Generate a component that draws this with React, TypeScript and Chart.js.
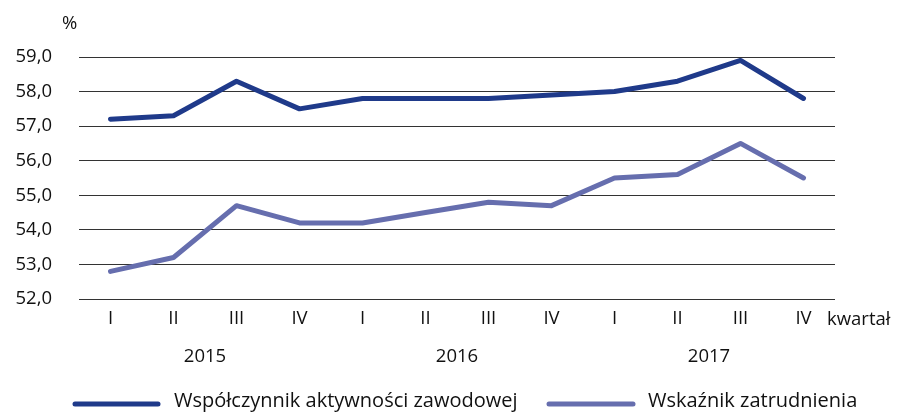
import React, { useEffect, useRef } from "react";
import { Chart, registerables } from "chart.js";

Chart.register(...registerables);

const quarters = ["I", "II", "III", "IV", "I", "II", "III", "IV", "I", "II", "III", "IV"];
const years = ["2015", "2016", "2017"];
const seriesNames = ["Współczynnik aktywności zawodowej", "Wskaźnik zatrudnienia"];
const activityRate = [57.2, 57.3, 58.3, 57.5, 57.8, 57.8, 57.8, 57.9, 58.0, 58.3, 58.9, 57.8];
const employmentRate = [52.8, 53.2, 54.7, 54.2, 54.2, 54.5, 54.8, 54.7, 55.5, 55.6, 56.5, 55.5];
const colors = ["#1f3a8a", "#666eae"];

const FONT = "'Open Sans', sans-serif";

const extras = {
  id: "extras",
  afterDraw(chart: any) {
    const ctx = chart.ctx;
    const x = chart.scales.x;
    ctx.save();
    ctx.fillStyle = "#111111";
    ctx.font = `500 18.5px ${FONT}`;
    ctx.textBaseline = "middle";
    ctx.textAlign = "left";
    ctx.fillText("%", 62, 24);
    ctx.fillText("kwartał", 827, 320);
    ctx.textAlign = "center";
    years.forEach((y, i) => {
      const a = x.getPixelForValue(i * 4 + 1);
      const b = x.getPixelForValue(i * 4 + 2);
      ctx.fillText(y, (a + b) / 2, 357);
    });
    // legend
    ctx.font = `500 20px ${FONT}`;
    ctx.textAlign = "left";
    const items = [
      { x0: 75, x1: 158, tx: 174 },
      { x0: 549, x1: 633, tx: 648 },
    ];
    items.forEach((it, i) => {
      ctx.strokeStyle = colors[i];
      ctx.lineWidth = 5;
      ctx.lineCap = "round";
      ctx.beginPath();
      ctx.moveTo(it.x0, 404);
      ctx.lineTo(it.x1, 404);
      ctx.stroke();
      ctx.fillText(seriesNames[i], it.tx, 401);
    });
    ctx.restore();
  },
};

export default function App() {
  const ref = useRef<HTMLCanvasElement>(null);
  useEffect(() => {
    const chart = new Chart(ref.current!, {
      type: "line",
      data: {
        labels: quarters,
        datasets: [
          {
            label: seriesNames[0],
            data: activityRate,
            borderColor: colors[0],
            borderWidth: 5,
            pointRadius: 0,
            tension: 0,
            borderCapStyle: "round",
            borderJoinStyle: "round",
          },
          {
            label: seriesNames[1],
            data: employmentRate,
            borderColor: colors[1],
            borderWidth: 5,
            pointRadius: 0,
            tension: 0,
            borderCapStyle: "round",
            borderJoinStyle: "round",
          },
        ],
      },
      options: {
        animation: false,
        responsive: false,
        maintainAspectRatio: false,
        layout: { padding: { left: 0, top: 57, right: 65, bottom: 83 } },
        plugins: { legend: { display: false }, tooltip: { enabled: false } },
        scales: {
          x: {
            offset: true,
            grid: { display: false, drawTicks: false },
            border: { display: false },
            ticks: { color: "#111111", font: { family: FONT, size: 18.5, weight: "500" }, padding: 9, maxRotation: 0, autoSkip: false },
            afterFit(s: any) { s.height = 30; },
          },
          y: {
            min: 52,
            max: 59,
            ticks: {
              stepSize: 1,
              color: "#111111",
              font: { family: FONT, size: 18.5, weight: "500" },
              padding: 27,
              callback: (v: any) => Number(v).toFixed(1).replace(".", ","),
            },
            grid: { color: "#333333", lineWidth: 1, drawTicks: false },
            border: { display: false },
            afterFit(s: any) { s.width = 79; },
          },
        },
      },
      plugins: [extras],
    });
    return () => chart.destroy();
  }, []);
  return (
    <div style={{ position: "fixed", left: 0, top: 0, width: 900, height: 412, background: "#fff" }}>
      <canvas ref={ref} width={900} height={412} />
    </div>
  );
}
